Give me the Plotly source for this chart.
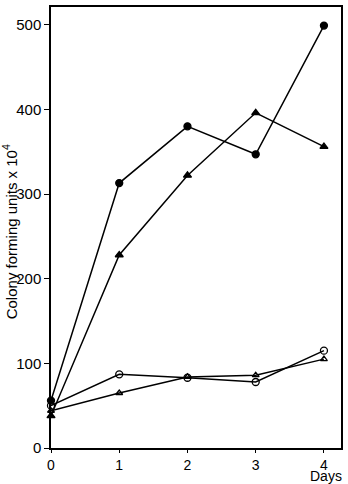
import plotly.graph_objects as go

days = [0, 1, 2, 3, 4]
filled_circle = [56, 313, 380, 347, 499]
filled_triangle = [38, 228, 322, 396, 356]
open_circle = [50, 87, 83, 78, 115]
open_triangle = [44, 65, 84, 86, 105]

y_ticks = [0, 100, 200, 300, 400, 500]
x_ticks = [0, 1, 2, 3, 4]

FONT = "Liberation Sans, Arial, Helvetica, sans-serif"

fig = go.Figure()

def add(vals, symbol, size, name):
    fig.add_trace(go.Scatter(
        x=days, y=vals, mode="lines+markers", name=name,
        line=dict(color="black", width=1.5),
        marker=dict(symbol=symbol, size=size, color="black",
                    line=dict(color="black", width=1.3)),
        cliponaxis=False,
    ))

add(open_triangle, "triangle-up-open", 6, "open triangle")
add(open_circle, "circle-open", 7, "open circle")
add(filled_triangle, "triangle-up", 7, "filled triangle")
add(filled_circle, "circle", 7, "filled circle")

fig.update_layout(
    width=348, height=484,
    margin=dict(l=51, r=6, t=5, b=36),
    paper_bgcolor="white", plot_bgcolor="white",
    showlegend=False,
    font=dict(family=FONT, size=14, color="black"),
    xaxis=dict(range=[0, 4.25], tickvals=x_ticks, ticktext=[str(v) for v in x_ticks],
               ticks="outside", ticklen=3, tickwidth=1.3, tickcolor="black",
               showline=True, linecolor="black", linewidth=1.5, mirror=True,
               showgrid=False, zeroline=False, tickfont=dict(size=14)),
    yaxis=dict(range=[0, 521], tickvals=y_ticks, ticktext=[str(v) for v in y_ticks],
               ticks="outside", ticklen=5, tickwidth=1.3, tickcolor="black",
               showline=True, linecolor="black", linewidth=1.5, mirror=True,
               showgrid=False, zeroline=False, tickfont=dict(size=15)),
    annotations=[
        dict(text="Colony forming units x 10<sup>4</sup>", xref="paper", yref="paper",
             x=-0.14, y=0.49, xanchor="center", yanchor="middle",
             textangle=-90, showarrow=False, font=dict(size=15)),
        dict(text="Days", xref="x", yref="paper", x=4.03, y=-0.083,
             xanchor="center", yanchor="bottom", showarrow=False, font=dict(size=14),
             borderpad=0),
    ],
)

fig.write_html("out.html")
